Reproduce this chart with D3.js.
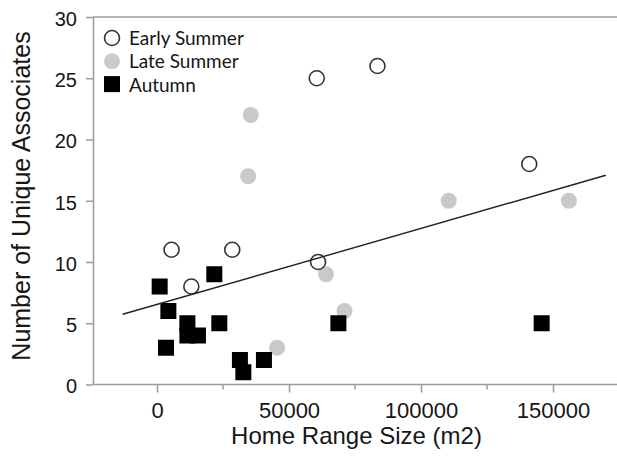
<!DOCTYPE html>
<html>
<head>
<meta charset="utf-8">
<script src="https://cdn.jsdelivr.net/npm/d3@7"></script>
<style>
  body { margin: 0; background: #fff; }
  svg { display: block; }
</style>
</head>
<body>
<script>
// data
const earlyX = [60500, 83500, 141000, 61000, 5500, 28500, 13000];
const earlyY = [25, 26, 18, 10, 11, 11, 8];
const lateX = [35500, 34500, 45500, 64000, 71000, 110500, 156000];
const lateY = [22, 17, 3, 9, 6, 15, 15];
const autumnX = [1000, 4300, 3400, 11500, 11500, 15500, 21700, 23600, 31400, 32700, 40500, 68700, 145700];
const autumnY = [8, 6, 3, 5, 4, 4, 9, 5, 2, 1, 2, 5, 5];
const seriesNames = ["Early Summer", "Late Summer", "Autumn"];
const xLabelTicks = [0, 50000, 100000, 150000];
const xMinorTicks = [25000, 75000, 125000, 175000];
const yTicks = [0, 5, 10, 15, 20, 25, 30];
// trend line (least squares fit as drawn)
const trendRange = [-13000, 170000];
const trendSlope = 0.000062;
const trendIntercept = 6.54;

const width = 617, height = 457;
const plotLeft = 93, plotTop = 17, plotBottom = 384.5;
const axisColor = "#9a9a9a";
const textColor = "#161616";

const svg = d3.select("body").append("svg")
  .attr("width", width)
  .attr("height", height);

const x = d3.scaleLinear().domain([-24250, 175000]).range([plotLeft, plotLeft + 199250 * 0.00264]);
const y = d3.scaleLinear().domain([0, 30]).range([plotBottom, plotTop]);

// top frame line
svg.append("line")
  .attr("x1", plotLeft).attr("x2", width)
  .attr("y1", y(30)).attr("y2", y(30))
  .attr("stroke", axisColor).attr("stroke-width", 1.5);

// y axis
const yAxis = svg.append("g")
  .attr("transform", `translate(${plotLeft},0)`)
  .call(d3.axisLeft(y).tickValues(yTicks).tickSize(7).tickSizeOuter(0).tickPadding(9));
yAxis.select(".domain").attr("stroke", axisColor).attr("stroke-width", 1.5);
yAxis.selectAll(".tick line").attr("stroke", axisColor).attr("stroke-width", 1.5);
yAxis.selectAll(".tick text")
  .attr("font-family", "Liberation Sans, Arial, sans-serif")
  .attr("font-size", 20)
  .attr("fill", textColor)
  .attr("dy", "0.42em");

// x axis line
svg.append("line")
  .attr("x1", plotLeft).attr("x2", width)
  .attr("y1", plotBottom).attr("y2", plotBottom)
  .attr("stroke", axisColor).attr("stroke-width", 1.5);

const xAxis = svg.append("g")
  .attr("transform", `translate(0,${plotBottom})`)
  .call(d3.axisBottom(x).tickValues(xLabelTicks).tickSize(8).tickSizeOuter(0).tickPadding(10)
    .tickFormat(d3.format("d")));
xAxis.select(".domain").remove();
xAxis.selectAll(".tick line").attr("stroke", axisColor).attr("stroke-width", 1.5);
xAxis.selectAll(".tick text")
  .attr("font-family", "Liberation Sans, Arial, sans-serif")
  .attr("font-size", 22)
  .attr("fill", textColor);

svg.append("g").selectAll("line")
  .data(xMinorTicks)
  .join("line")
  .attr("x1", d => x(d)).attr("x2", d => x(d))
  .attr("y1", plotBottom).attr("y2", plotBottom + 5)
  .attr("stroke", axisColor).attr("stroke-width", 1.5);

// axis titles
svg.append("text")
  .attr("x", (plotLeft + 620) / 2)
  .attr("y", 444)
  .attr("text-anchor", "middle")
  .attr("font-family", "Liberation Sans, Arial, sans-serif")
  .attr("font-size", 24)
  .attr("fill", textColor)
  .text("Home Range Size (m2)");

svg.append("text")
  .attr("transform", "translate(30,196) rotate(-90)")
  .attr("text-anchor", "middle")
  .attr("font-family", "Liberation Sans, Arial, sans-serif")
  .attr("font-size", 25)
  .attr("fill", textColor)
  .text("Number of Unique Associates");

// points
const early = earlyX.map((v, i) => ({x: v, y: earlyY[i]}));
const late = lateX.map((v, i) => ({x: v, y: lateY[i]}));
const autumn = autumnX.map((v, i) => ({x: v, y: autumnY[i]}));

svg.append("g").selectAll("circle")
  .data(late)
  .join("circle")
  .attr("cx", d => x(d.x)).attr("cy", d => y(d.y))
  .attr("r", 8)
  .attr("fill", "#c9c9c9");

svg.append("g").selectAll("rect")
  .data(autumn)
  .join("rect")
  .attr("x", d => x(d.x) - 8).attr("y", d => y(d.y) - 8)
  .attr("width", 16).attr("height", 16)
  .attr("fill", "#000");

svg.append("g").selectAll("circle")
  .data(early)
  .join("circle")
  .attr("cx", d => x(d.x)).attr("cy", d => y(d.y))
  .attr("r", 7.5)
  .attr("fill", "#fff")
  .attr("stroke", "#333")
  .attr("stroke-width", 1.6);

// trend line on top
const trend = trendRange.map(v => ({x: v, y: trendIntercept + trendSlope * v}));
svg.append("path")
  .datum(trend)
  .attr("d", d3.line().x(d => x(d.x)).y(d => y(d.y)))
  .attr("stroke", "#222")
  .attr("stroke-width", 1.4)
  .attr("fill", "none");

// legend
const legend = svg.append("g").attr("transform", "translate(112,38)");
const row = legend.selectAll("g")
  .data(seriesNames)
  .join("g")
  .attr("transform", (d, i) => `translate(0,${i * 23.3})`);
row.filter((d, i) => i === 0).append("circle")
  .attr("r", 7.5).attr("fill", "#fff").attr("stroke", "#333").attr("stroke-width", 1.6);
row.filter((d, i) => i === 1).append("circle")
  .attr("r", 8).attr("fill", "#c9c9c9");
row.filter((d, i) => i === 2).append("rect")
  .attr("x", -8).attr("y", -8.5).attr("width", 16).attr("height", 16).attr("fill", "#000");
row.append("text")
  .attr("x", 17)
  .attr("y", 7)
  .attr("font-family", "Lato, sans-serif")
  .attr("font-size", 19)
  .attr("fill", textColor)
  .text(d => d);
</script>
</body>
</html>
